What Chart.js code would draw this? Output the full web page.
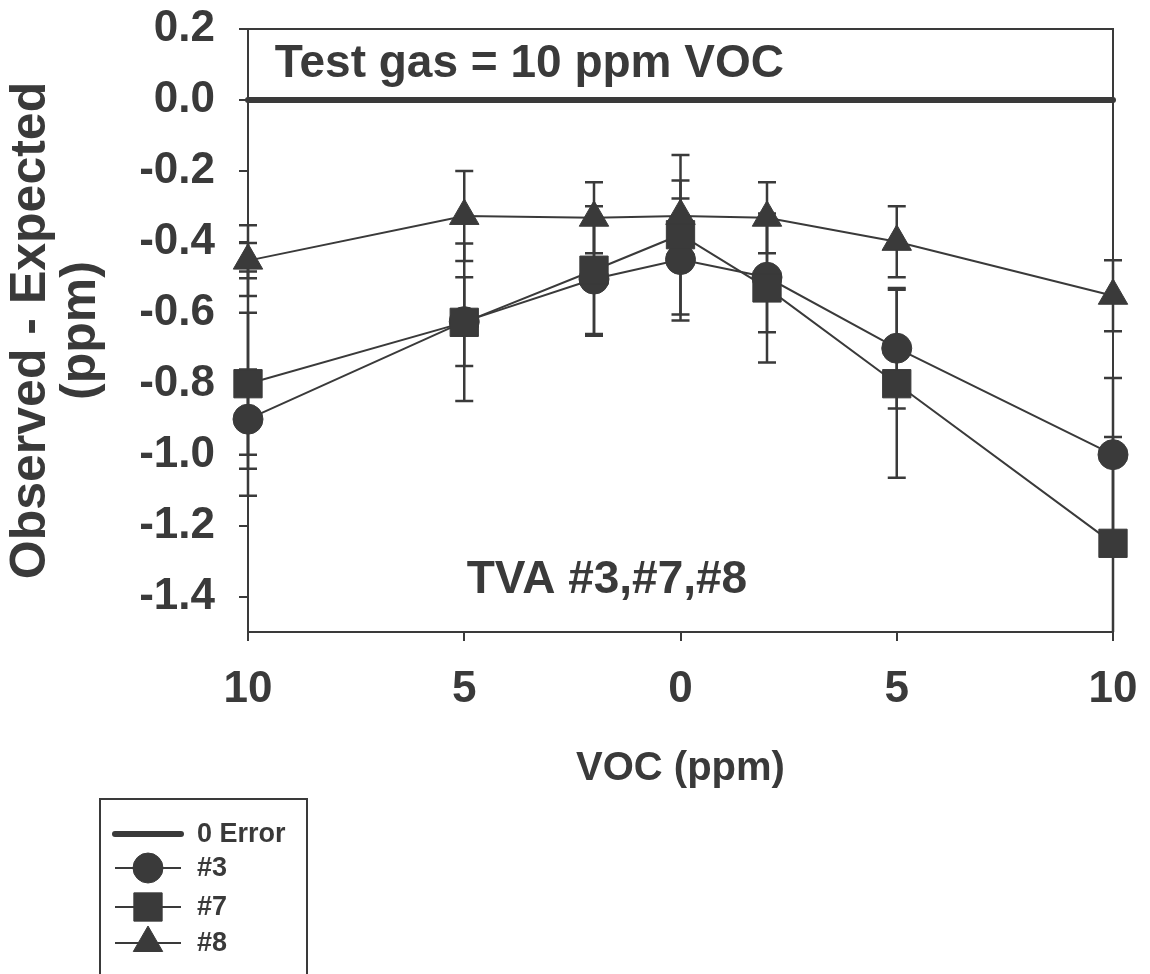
<!DOCTYPE html>
<html>
<head>
<meta charset="utf-8">
<script src="https://cdn.jsdelivr.net/npm/chart.js@4.4.1/dist/chart.umd.min.js"></script>
<style>
  body { margin: 0; background: #fff; }
  #wrap { width: 1150px; height: 974px; position: relative; }
</style>
</head>
<body>
<div id="wrap"><canvas id="myChart"></canvas></div>
<script>
// VOC levels (left half = decreasing, right half = increasing)
const vocLevels = [-10, -5, -2, 0, 2, 5, 10];
const xTicks = [-10, -5, 0, 5, 10];
const yTicks = [0.2, 0.0, -0.2, -0.4, -0.6, -0.8, -1.0, -1.2, -1.4];

// zero error reference line
const zeroLineX = [-10, 10];
const zeroLineY = [0, 0];

// observed - expected (ppm) and error bars
const tva3 = [-0.90, -0.625, -0.505, -0.45, -0.50, -0.70, -1.00];
const tva3Err = [0.14, 0.125, 0.16, 0.172, 0.155, 0.17, 0.216];
const tva7 = [-0.80, -0.627, -0.48, -0.38, -0.53, -0.80, -1.25];
const tva7Err = [0.316, 0.222, 0.18, 0.225, 0.21, 0.265, 0.30];
const tva7Err2 = [0.20, null, null, null, null, null, null];
const tva8 = [-0.453, -0.327, -0.332, -0.327, -0.332, -0.40, -0.552];
const tva8Err = [0.10, 0.127, 0.10, 0.10, 0.10, 0.10, 0.10];
const tva8Err2 = [0.05, null, null, null, null, null, null];

const ink = '#3a3a3a';
const fontFamily = '"Liberation Sans", Arial, Helvetica, sans-serif';

const toPoints = (xs, ys) => xs.map((x, i) => ({ x: x, y: ys[i] }));

// error bars, drawn under the markers
const errorBars = {
  id: 'errorBars',
  beforeDatasetsDraw(chart) {
    const { ctx, chartArea, scales: { x, y } } = chart;
    ctx.save();
    ctx.beginPath();
    ctx.rect(chartArea.left - 20, chartArea.top, chartArea.width + 40, chartArea.height);
    ctx.clip();
    ctx.strokeStyle = ink;
    ctx.lineWidth = 2.5;
    chart.data.datasets.forEach((ds, di) => {
      if (!ds.errorSets || !chart.isDatasetVisible(di)) return;
      ds.errorSets.forEach(errs => {
        ds.data.forEach((p, i) => {
          const e = errs[i];
          if (e == null) return;
          const px = x.getPixelForValue(p.x);
          const top = y.getPixelForValue(p.y + e);
          const bot = y.getPixelForValue(p.y - e);
          ctx.beginPath();
          ctx.moveTo(px, top);
          ctx.lineTo(px, bot);
          ctx.moveTo(px - 9, top);
          ctx.lineTo(px + 9, top);
          ctx.moveTo(px - 9, bot);
          ctx.lineTo(px + 9, bot);
          ctx.stroke();
        });
      });
    });
    ctx.restore();

    // top and right frame lines
    ctx.save();
    ctx.strokeStyle = ink;
    ctx.lineWidth = 2;
    ctx.beginPath();
    ctx.moveTo(chartArea.left, chartArea.top);
    ctx.lineTo(chartArea.right, chartArea.top);
    ctx.lineTo(chartArea.right, chartArea.bottom);
    ctx.stroke();
    ctx.restore();
  }
};

// text notes inside the plot
const notes = {
  id: 'notes',
  afterDatasetsDraw(chart) {
    const { ctx, scales: { x, y } } = chart;
    ctx.save();
    ctx.fillStyle = ink;
    ctx.font = 'bold 46px ' + fontFamily;
    ctx.textBaseline = 'middle';
    ctx.textAlign = 'left';
    ctx.fillText('Test gas = 10 ppm VOC', x.getPixelForValue(-9.38), y.getPixelForValue(0.1));
    ctx.textAlign = 'center';
    ctx.fillText('TVA #3,#7,#8', x.getPixelForValue(-1.7), y.getPixelForValue(-1.355));
    ctx.restore();
  }
};

// boxed legend at lower left
const boxLegend = {
  id: 'boxLegend',
  afterDraw(chart) {
    const ctx = chart.ctx;
    const left = 100, top = 799, w = 207;
    const rows = [834, 868, 907, 943];
    ctx.save();
    ctx.strokeStyle = ink;
    ctx.lineWidth = 2;
    ctx.strokeRect(left, top, w, 220);
    ctx.font = 'bold 27px ' + fontFamily;
    ctx.textBaseline = 'middle';
    chart.data.datasets.forEach((ds, i) => {
      const yy = rows[i];
      ctx.strokeStyle = ink;
      ctx.lineWidth = ds.borderWidth;
      ctx.lineCap = ds.borderCapStyle || 'butt';
      ctx.beginPath();
      ctx.moveTo(left + 15, yy);
      ctx.lineTo(left + 81, yy);
      ctx.stroke();
      if (ds.pointRadius) {
        ctx.fillStyle = ink;
        ctx.lineWidth = 1;
        Chart.helpers.drawPoint(ctx, {
          pointStyle: ds.pointStyle,
          radius: ds.pointRadius,
          rotation: 0,
          borderWidth: 1
        }, left + 48, yy);
      }
      ctx.fillStyle = ink;
      ctx.fillText(ds.label, left + 97, yy + 1);
    });
    ctx.restore();
  }
};

// keep the plot frame where the reference has it
const noOverflowY = axis => {
  axis.width = 248;
  axis.paddingTop = 0;
  axis.paddingBottom = 0;
};
const noOverflowX = axis => {
  axis.height = 342;
  axis.paddingLeft = 0;
  axis.paddingRight = 0;
};

const ctx = document.getElementById('myChart');

const myChart = new Chart(ctx, {
  type: 'line',
  data: {
    datasets: [
      {
        label: '0 Error',
        data: toPoints(zeroLineX, zeroLineY),
        borderColor: ink,
        borderWidth: 6,
        borderCapStyle: 'round',
        pointRadius: 0,
        order: 3
      },
      {
        label: '#3',
        data: toPoints(vocLevels, tva3),
        errorSets: [tva3Err],
        borderColor: ink,
        backgroundColor: ink,
        borderWidth: 2,
        pointStyle: 'circle',
        pointRadius: 15,
        pointBorderWidth: 1,
        order: 2
      },
      {
        label: '#7',
        data: toPoints(vocLevels, tva7),
        errorSets: [tva7Err, tva7Err2],
        borderColor: ink,
        backgroundColor: ink,
        borderWidth: 2,
        pointStyle: 'rect',
        pointRadius: 20,
        pointBorderWidth: 1,
        order: 1
      },
      {
        label: '#8',
        data: toPoints(vocLevels, tva8),
        errorSets: [tva8Err, tva8Err2],
        borderColor: ink,
        backgroundColor: ink,
        borderWidth: 2,
        pointStyle: 'triangle',
        pointRadius: 17,
        pointBorderWidth: 1,
        order: 0
      }
    ]
  },
  options: {
    responsive: true,
    maintainAspectRatio: false,
    animation: false,
    clip: false,
    layout: { padding: { top: 29, right: 37, left: 0, bottom: 0 } },
    plugins: {
      legend: { display: false },
      tooltip: { enabled: false }
    },
    scales: {
      x: {
        type: 'linear',
        min: -10,
        max: 10,
        afterBuildTicks: axis => { axis.ticks = xTicks.map(v => ({ value: v })); },
        afterFit: noOverflowX,
        grid: { drawOnChartArea: false, drawTicks: true, tickLength: 9, color: ink, lineWidth: 2 },
        border: { display: true, color: ink, width: 2 },
        ticks: {
          color: ink,
          padding: 22,
          autoSkip: false,
          maxRotation: 0,
          font: { family: fontFamily, size: 44, weight: 'bold' },
          callback: v => String(Math.abs(v))
        },
        title: {
          display: true,
          text: 'VOC (ppm)',
          color: ink,
          padding: { top: 0, bottom: 183 },
          font: { family: fontFamily, size: 40, weight: 'bold', lineHeight: 1.1 }
        }
      },
      y: {
        min: -1.5,
        max: 0.2,
        afterBuildTicks: axis => { axis.ticks = yTicks.map(v => ({ value: v })); },
        afterFit: noOverflowY,
        grid: { drawOnChartArea: false, drawTicks: true, tickLength: 9, color: ink, lineWidth: 2 },
        border: { display: true, color: ink, width: 2 },
        ticks: {
          color: ink,
          padding: 24,
          autoSkip: false,
          font: { family: fontFamily, size: 44, weight: 'bold' },
          callback: v => Number(v).toFixed(1)
        },
        title: {
          display: true,
          text: ['Observed - Expected', '(ppm)'],
          color: ink,
          padding: { top: 6, bottom: 0 },
          font: { family: fontFamily, size: 50, weight: 'bold', lineHeight: 1.0 }
        }
      }
    }
  },
  plugins: [errorBars, notes, boxLegend]
});
</script>
</body>
</html>
